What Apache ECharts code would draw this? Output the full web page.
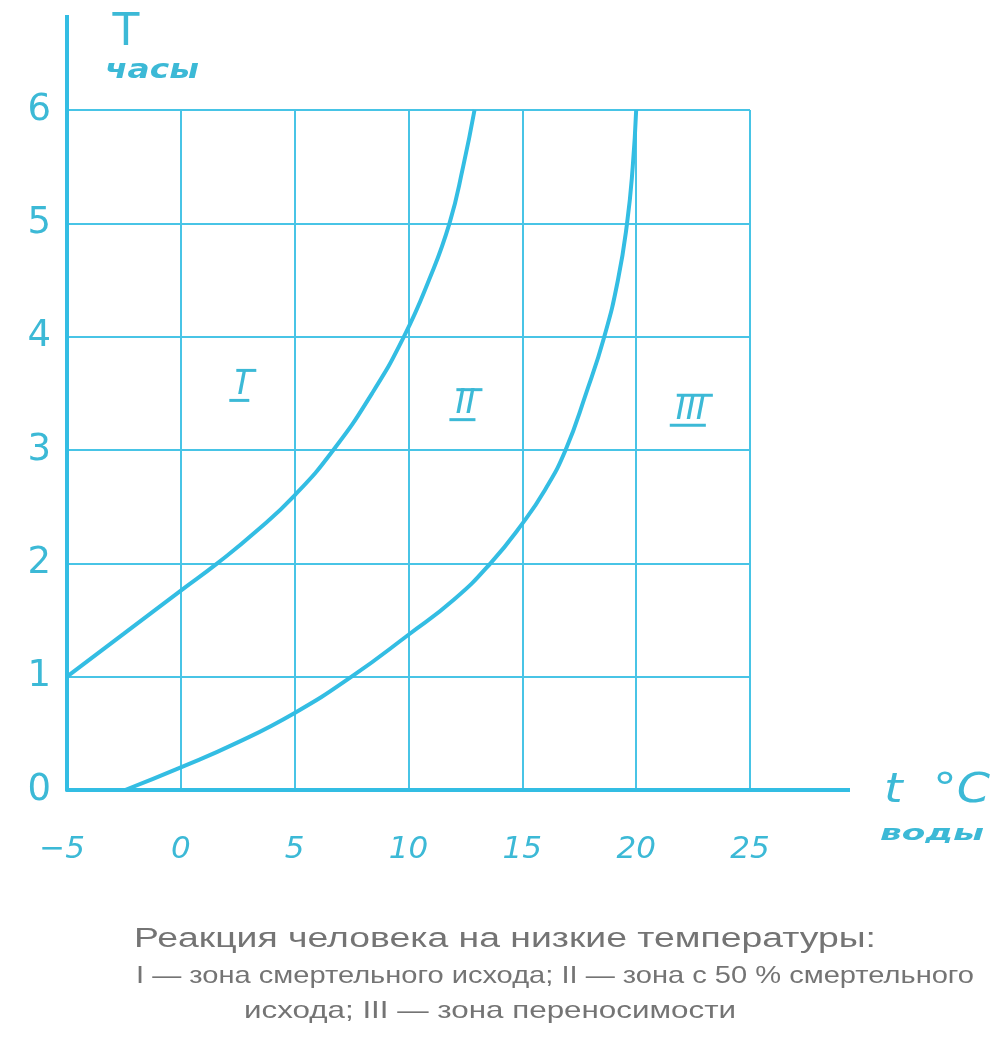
<!DOCTYPE html>
<html>
<head>
<meta charset="utf-8">
<script src="https://cdn.jsdelivr.net/npm/echarts@6/dist/echarts.min.js"></script>
<style>
html,body{margin:0;padding:0;background:#fff;}
#c{width:1005px;height:1046px;}
</style>
</head>
<body>
<div id="c"></div>
<script>
// ---- data ----
const xTicks = [-5, 0, 5, 10, 15, 20, 25];
const yTicks = [0, 1, 2, 3, 4, 5, 6];
// boundary between zone I and zone II
const curveI = [[-5,1],[-2.5,1.38],[0,1.76],[1.6,2],[3.3,2.28],[5,2.6],[6.7,3],[8.4,3.5],[9.8,4],[10.9,4.5],[11.8,5],[12.4,5.5],[12.9,6]];
// boundary between zone II and zone III
const curveII = [[-2.45,0],[0,0.2],[2.5,0.42],[5,0.68],[7.5,1],[10,1.37],[12,1.68],[13.6,2],[15,2.35],[16,2.65],[16.9,3],[17.8,3.5],[18.6,4],[19.2,4.5],[19.6,5],[19.85,5.5],[20,6]];
const zoneNames = ['I', 'II', 'III'];
const zonePos = [[2.7,3.57],[12.5,3.4],[22.4,3.35]];
const captionLines = [
  'Реакция человека на низкие температуры:',
  'I — зона смертельного исхода; II — зона с 50 % смертельного',
  'исхода; III — зона переносимости'
];
const yName = ['T', 'часы'];
const xName = ['t  °C', 'воды'];

const CYAN = '#33bde3';
const GRID = '#48c4e6';
const LABEL = '#3cb9d6';
const hand = '"DejaVu Sans", sans-serif';
const capFont = '"Liberation Sans", Arial, sans-serif';

const mctx = document.createElement('canvas').getContext('2d');
function textW(text, font){ mctx.font = font; return mctx.measureText(text).width; }
function fitScale(text, font, target){ return target / textW(text, font); }

const romanFont = 'italic normal 34px "DejaVu Sans"';

function renderRoman(params, api){
  const name = zoneNames[params.dataIndex];
  const c = api.coord([api.value(0), api.value(1)]);
  const w = Math.max(textW(name, romanFont) + 6, 20);
  const h = 34;
  const ls = {stroke:LABEL, lineWidth:3};
  const children = [
    {type:'text', x:0, y:0, style:{text:name, font:romanFont, fill:LABEL, align:'center', verticalAlign:'middle'}},
    {type:'line', shape:{x1:-w/2+4, y1:-h/2+2, x2:w/2+4, y2:-h/2+2}, style:ls},
    {type:'line', shape:{x1:-w/2-3, y1:h/2-2, x2:w/2-3, y2:h/2-2}, style:ls}
  ];
  return {type:'group', x:c[0], y:c[1], children:children};
}

const chart = echarts.init(document.getElementById('c'), null, {renderer:'canvas'});
chart.setOption({
  backgroundColor:'#ffffff',
  animation:false,
  grid:{left:67, right:255, top:110, bottom:256, containLabel:false, outerBoundsMode:'none'},
  xAxis:{
    type:'value', min:-5, max:25, interval:5,
    axisLine:{show:true, onZero:false, lineStyle:{color:CYAN, width:4}},
    axisTick:{show:false},
    splitLine:{show:true, lineStyle:{color:GRID, width:2}},
    axisLabel:{
      color:LABEL, fontSize:31, fontStyle:'italic', fontFamily:hand, margin:44,
      formatter:function(v){ return xTicks.indexOf(v) >= 0 ? (v < 0 ? '−' + Math.abs(v) + ' ' : String(v)) : ''; }
    }
  },
  yAxis:{
    type:'value', min:0, max:6, interval:1,
    axisLine:{show:true, onZero:false, lineStyle:{color:CYAN, width:4}},
    axisTick:{show:false},
    splitLine:{show:true, lineStyle:{color:GRID, width:2}},
    axisLabel:{
      color:LABEL, fontSize:37, fontFamily:hand, margin:16, padding:[9,0,0,0],
      formatter:function(v){ return yTicks.indexOf(v) >= 0 ? String(v) : ''; }
    }
  },
  series:[
    {type:'line', data:curveI, smooth:0.5, symbol:'none', lineStyle:{color:CYAN, width:4}, z:5},
    {type:'line', data:curveII, smooth:0.5, symbol:'none', lineStyle:{color:CYAN, width:4}, z:5},
    {type:'custom', data:zonePos, renderItem:renderRoman, z:6, silent:true}
  ]
});

// axis extensions, axis names and caption
const p06 = chart.convertToPixel({gridIndex:0}, [-5, 6]);
const p250 = chart.convertToPixel({gridIndex:0}, [25, 0]);

function txt(text, x, y, size, weight, style, family, fill, targetW){
  const font = style + ' ' + weight + ' ' + size + 'px ' + family;
  const sx = targetW ? fitScale(text, font, targetW) : 1;
  return {type:'text', x:x, y:y, scaleX:sx, style:{text:text, fontSize:size, fontWeight:weight, fontStyle:style, fontFamily:family, fill:fill, align:'center', verticalAlign:'middle'}};
}

chart.setOption({
  graphic:[
    {type:'line', shape:{x1:p06[0], y1:p06[1], x2:p06[0], y2:15}, style:{stroke:CYAN, lineWidth:4}},
    {type:'line', shape:{x1:p250[0], y1:p250[1], x2:850, y2:p250[1]}, style:{stroke:CYAN, lineWidth:4}},
    txt(yName[0], 126, 34, 44, 'normal', 'normal', hand, LABEL, 0),
    txt(yName[1], 152, 71, 26, 'bold', 'italic', hand, LABEL, 94),
    txt(xName[0], 937, 792, 40, 'normal', 'italic', hand, LABEL, 106),
    txt(xName[1], 932, 834, 22, 'bold', 'italic', hand, LABEL, 104),
    txt(captionLines[0], 505, 940, 27, 'normal', 'normal', capFont, '#747474', 742),
    txt(captionLines[1], 555, 976, 24, 'normal', 'normal', capFont, '#747474', 838),
    txt(captionLines[2], 490, 1011, 24, 'normal', 'normal', capFont, '#747474', 492)
  ]
});
</script>
</body>
</html>
